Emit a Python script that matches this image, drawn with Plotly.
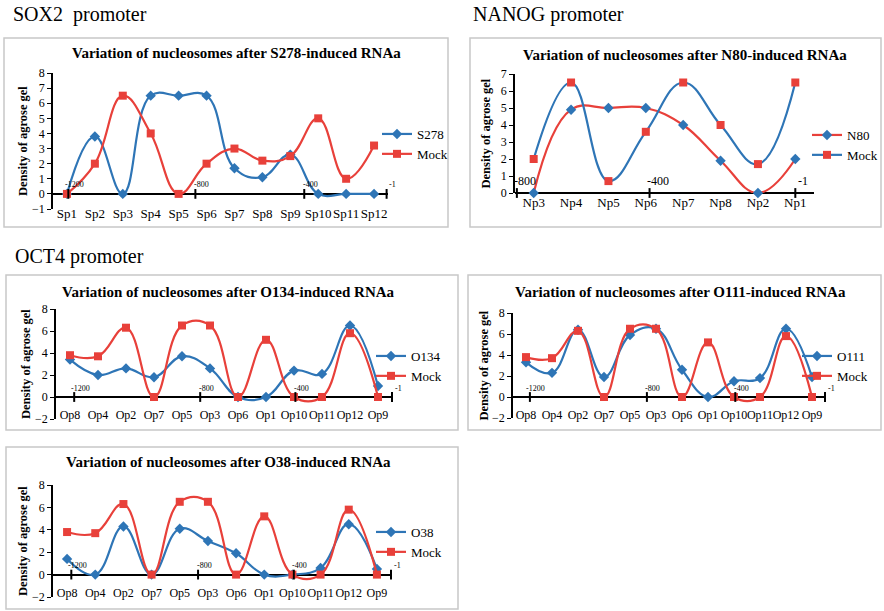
import plotly.graph_objects as go

W, H = 884, 611

# ---------------- data ----------------
sox_cats = ["Sp1", "Sp2", "Sp3", "Sp4", "Sp5", "Sp6", "Sp7", "Sp8", "Sp9", "Sp10", "Sp11", "Sp12"]
sox_s278 = [0, 3.8, 0, 6.5, 6.5, 6.5, 1.7, 1.1, 2.6, 0, 0, 0]
sox_mock = [0, 2.0, 6.5, 4.0, 0, 2.0, 3.0, 2.2, 2.5, 5.0, 1.0, 3.2]

nanog_cats = ["Np3", "Np4", "Np5", "Np6", "Np7", "Np8", "Np2", "Np1"]
nanog_n80 = [0, 4.9, 5.0, 5.0, 4.0, 1.9, 0, 2.0]
nanog_mock = [2.0, 6.5, 0.7, 3.6, 6.5, 4.0, 1.7, 6.5]

oct_cats = ["Op8", "Op4", "Op2", "Op7", "Op5", "Op3", "Op6", "Op1", "Op10", "Op11", "Op12", "Op9"]
oct_mock = [3.8, 3.7, 6.3, 0, 6.5, 6.5, 0, 5.2, 0, 0, 5.8, 0]
oct_o134 = [3.4, 2.0, 2.6, 1.8, 3.7, 2.6, 0, 0, 2.4, 2.1, 6.5, 1.0]
oct_o111 = [3.3, 2.3, 6.4, 1.9, 5.9, 6.5, 2.6, 0, 1.5, 1.8, 6.5, 1.9]
oct_o38 = [1.4, 0, 4.3, 0, 4.1, 3.0, 1.9, 0, 0, 0.6, 4.5, 0.5]

# promoter position labels (relative to TSS) and where they sit on the category scale
sox_pos_labels = ["-1200", "-800", "-400", "-1"]
sox_pos_at = [0.05, 4.6, 8.5, 11.45]
nanog_pos_labels = ["-800", "-400", "-1"]
nanog_pos_at = [-0.45, 3.1, 7.0]
oct_pos_labels = ["-1200", "-800", "-400", "-1"]
oct_pos_at = [0.15, 4.65, 8.05, 11.5]

Y_TITLE = "Density of agrose gel"

BLUE = "#2E75B6"
RED = "#E8403A"
SERIF = "Liberation Serif, Times New Roman, serif"


def px_x(p):
    return p / W


def px_y(p):
    return 1 - p / H


fig = go.Figure()

panels = [
    dict(cats=sox_cats, series=[("S278", sox_s278, BLUE, "diamond", BLUE), ("Mock", sox_mock, RED, "square", RED)],
         title="Variation of nucleosomes after S278-induced RNAa",
         xd=(53, 388), yd=(209, 73), yr=(-1, 8), dt=1, lab_y=204, tfs=13,
         box=(4, 38, 448, 227), legend_xy=(377, 144),
         pos=(sox_pos_labels, sox_pos_at), title_y=53, title_x=236),
    dict(cats=nanog_cats, series=[("N80", nanog_n80, RED, "diamond", BLUE), ("Mock", nanog_mock, BLUE, "square", RED)],
         title="Variation of nucleosomes after N80-induced RNAa",
         xd=(515, 814), yd=(193, 74), yr=(0, 7), dt=1, lab_y=193, tfs=13,
         box=(470, 38, 881, 227), legend_xy=(807, 145),
         pos=(nanog_pos_labels, nanog_pos_at), title_y=55, title_x=685),
    dict(cats=oct_cats, series=[("O134", oct_o134, BLUE, "diamond", BLUE), ("Mock", oct_mock, RED, "square", RED)],
         title="Variation of nucleosomes after O134-induced RNAa",
         xd=(56, 392), yd=(419, 309), yr=(-2, 8), dt=2, lab_y=406, tfs=12,
         box=(6, 275, 458, 430), legend_xy=(371, 366),
         pos=(oct_pos_labels, oct_pos_at), title_y=292, title_x=228),
    dict(cats=oct_cats, series=[("O111", oct_o111, BLUE, "diamond", BLUE), ("Mock", oct_mock, RED, "square", RED)],
         title="Variation of nucleosomes after O111-induced RNAa",
         xd=(513, 825), yd=(418, 313), yr=(-2, 8), dt=2, lab_y=406, tfs=12,
         box=(468, 275, 881, 430), legend_xy=(797, 366),
         pos=(oct_pos_labels, oct_pos_at), title_y=292, title_x=680),
    dict(cats=oct_cats, series=[("O38", oct_o38, BLUE, "diamond", BLUE), ("Mock", oct_mock, RED, "square", RED)],
         title="Variation of nucleosomes after O38-induced RNAa",
         xd=(53, 391), yd=(597, 485), yr=(-2, 8), dt=2, lab_y=584, tfs=12,
         box=(6, 447, 458, 609), legend_xy=(371, 542),
         pos=(oct_pos_labels, oct_pos_at), title_y=462, title_x=228),
]

shapes = []
annotations = []

for i, p in enumerate(panels, start=1):
    xa = "x" if i == 1 else f"x{i}"
    ya = "y" if i == 1 else f"y{i}"
    lg = "legend" if i == 1 else f"legend{i}"
    xs = list(range(len(p["cats"])))
    for name, vals, lcol, sym, mcol in p["series"]:
        fig.add_trace(go.Scatter(
            x=xs, y=vals, name=name, mode="lines+markers",
            line=dict(color=lcol, width=2.2, shape="spline", smoothing=1.2),
            marker=dict(symbol=sym, color=mcol, size=8),
            xaxis=xa, yaxis=ya, legend=lg, cliponaxis=False,
        ))
    # secondary position ticks on the zero line
    labels, at = p["pos"]
    fig.add_trace(go.Scatter(
        x=at, y=[0] * len(at), mode="markers", showlegend=False, hoverinfo="skip",
        marker=dict(symbol="line-ns", size=7, line=dict(color="black", width=2)),
        xaxis=xa, yaxis=ya, cliponaxis=False,
    ))
    for lab, a in zip(labels, at):
        annotations.append(dict(x=a, y=0, xref=xa, yref=ya, text=lab, showarrow=False,
                                yshift=9 if i != 2 else 12, xshift=6 if i != 2 else 8,
                                font=dict(family=SERIF, size=8 if i != 2 else 12, color="black")))

    n = len(p["cats"])
    x0, x1 = p["xd"]
    yb, yt = p["yd"]
    axk = "xaxis" if i == 1 else f"xaxis{i}"
    ayk = "yaxis" if i == 1 else f"yaxis{i}"
    fig.layout[axk] = dict(
        domain=[px_x(x0), px_x(x1)], anchor="free", position=px_y(p["lab_y"]), range=[-0.5, n - 0.5],
        tickmode="array", tickvals=xs, ticktext=p["cats"], showgrid=False, tickangle=0,
        showline=False, ticks="", zeroline=False, fixedrange=True, automargin=False,
        tickfont=dict(family=SERIF, size=p["tfs"], color="black"),
    )
    fig.layout[ayk] = dict(
        domain=[px_y(yb), px_y(yt)], anchor=xa, range=list(p["yr"]), dtick=p["dt"],
        showgrid=False, showline=True, linecolor="black", linewidth=1.5,
        ticks="outside", ticklen=4, tickcolor="black", automargin=False,
        zeroline=True, zerolinecolor="black", zerolinewidth=1.5,
        tickfont=dict(family=SERIF, size=12, color="black"),
    )
    # y-axis title as rotated text beside the axis
    annotations.append(dict(x=px_x(x0 - 30), y=px_y((yb + yt) / 2), xref="paper", yref="paper",
                            text=f"<b>{Y_TITLE}</b>", textangle=-90, showarrow=False,
                            xanchor="center", yanchor="middle",
                            font=dict(family=SERIF, size=12.5, color="black")))
    lx, ly = p["legend_xy"]
    fig.layout[lg] = dict(
        x=px_x(lx), y=px_y(ly), xanchor="left", yanchor="middle",
        bgcolor="rgba(0,0,0,0)", font=dict(family=SERIF, size=13, color="black"),
        itemwidth=30, tracegroupgap=0,
    )
    bx0, by0, bx1, by1 = p["box"]
    shapes.append(dict(type="rect", xref="paper", yref="paper",
                       x0=px_x(bx0), x1=px_x(bx1), y0=px_y(by1), y1=px_y(by0),
                       line=dict(color="#C8C8C8", width=1.5), fillcolor="rgba(0,0,0,0)", layer="below"))
    annotations.append(dict(x=px_x(p["title_x"]), y=px_y(p["title_y"]), xref="paper", yref="paper",
                            text=f"<b>{p['title']}</b>", showarrow=False, xanchor="center", yanchor="middle",
                            font=dict(family=SERIF, size=15, color="black")))

for txt, x, y in [("SOX2  promoter", 11, 15), ("NANOG promoter", 471, 15), ("OCT4 promoter", 13, 257)]:
    annotations.append(dict(x=px_x(x), y=px_y(y), xref="paper", yref="paper", text=txt,
                            showarrow=False, xanchor="left", yanchor="middle",
                            font=dict(family=SERIF, size=20, color="black")))

fig.update_layout(
    width=W, height=H, margin=dict(l=0, r=0, t=0, b=0, autoexpand=False),
    paper_bgcolor="white", plot_bgcolor="white",
    shapes=shapes, annotations=annotations, hovermode=False,
)

fig.write_html("out.html", config={"displayModeBar": False},
               post_script="document.body.style.margin='0';document.body.style.padding='0';")
